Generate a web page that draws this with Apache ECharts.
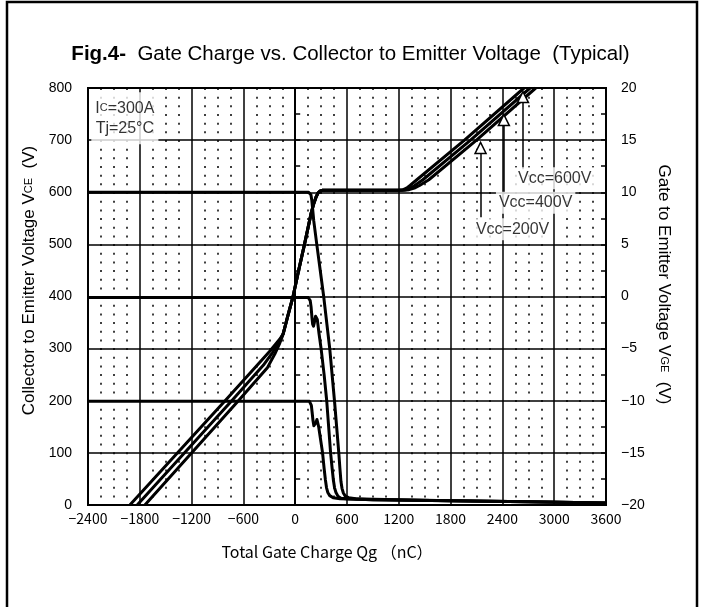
<!DOCTYPE html>
<html>
<head>
<meta charset="utf-8">
<script src="https://cdn.jsdelivr.net/npm/echarts@6/dist/echarts.min.js"></script>
<style>
html, body { margin: 0; padding: 0; background: #fff; }
#chart { width: 701px; height: 607px; }
</style>
</head>
<body>
<div id="chart"></div>
<script>
// Collector-emitter voltage during turn-on, [Qg nC, VCE V]
const vce600 = [[-2400,600],[155,600],[170,599],[182,595],[192,585],[202,568],[215,545],[250,500],[330,400],[400,300],[455,200],[505,100],[518,70],[530,45],[542,32],[558,23],[580,17],[620,14],[700,12],[900,11],[1800,8],[2700,6],[3600,4]];
const vce400 = [[-2400,398],[150,398],[163,397],[174,392],[184,380],[194,360],[202,347],[212,343],[222,350],[236,362],[246,364],[256,356],[275,330],[300,300],[335,250],[365,200],[410,100],[428,70],[442,48],[456,33],[472,24],[495,17],[530,13],[600,12],[900,10],[1800,8],[2700,6],[3600,4]];
const vce200 = [[-2400,199],[165,199],[177,197],[187,191],[196,178],[206,162],[216,152],[228,150],[240,158],[252,164],[262,162],[272,150],[290,130],[317,100],[335,70],[350,48],[363,33],[378,24],[400,18],[440,14],[520,12],[900,10],[1800,8],[2700,6],[3600,4]];

// Gate-emitter voltage, [Qg nC, VGE V]
const vgeLeft600 = [[-1915,-20],[-812,-10],[-420,-6.4],[-300,-5.3],[-230,-4.6],[-180,-4.1]];
const vgeLeft400 = [[-1830,-20],[-735,-10],[-370,-6.6],[-265,-5.4],[-205,-4.6],[-165,-4.0]];
const vgeLeft200 = [[-1741,-20],[-658,-10],[-320,-6.8],[-235,-5.5],[-185,-4.6],[-155,-3.95]];
const vgeMiddle = [[-140,-3.6],[-90,-2.0],[-25,0],[40,2.5],[105,4.9],[185,8.0],[215,8.9],[240,9.5],[262,9.9],[285,10.1],[320,10.2]];
const vgeRight200 = [[1200,10.2],[1250,10.25],[1290,10.4],[1330,10.65],[1409,11.2],[1961,15],[2651,20]];
const vgeRight400 = [[1230,10.2],[1285,10.25],[1335,10.4],[1385,10.65],[1479,11.2],[2031,15],[2721,20]];
const vgeRight600 = [[1260,10.2],[1320,10.25],[1380,10.4],[1440,10.65],[1548,11.2],[2100,15],[2786,20]];

// annotations (right axis units)
const vccNames = ['Vcc=200V', 'Vcc=400V', 'Vcc=600V'];
const arrowQ = [2147, 2417, 2638];
const arrowTop = [13.7, 16.4, 18.6];
const arrowBottom = [7.6, 9.8, 12.2];
const triangleVge = [14.25, 16.92, 19.13];
const labelQ = [2518, 2785, 3006];
const labelVge = [6.44, 8.99, 11.35];
const conditionText = 'I{s|C}=300A\nTj=25°C';
const conditionPos = [-1973, 742];

const minus = v => String(v).replace('-', '\u2212');

const chart = echarts.init(document.getElementById('chart'));

const curveStyle = { color: '#000', width: 3, join: 'round' };

const option = {
  animation: false,
  backgroundColor: '#fff',
  title: {
    text: '{b|Fig.4-}  Gate Charge vs. Collector to Emitter Voltage  (Typical)',
    left: 'center',
    top: 39,
    textStyle: {
      fontFamily: 'Liberation Sans',
      fontSize: 20.5,
      fontWeight: 'normal',
      color: '#000',
      rich: { b: { fontFamily: 'Liberation Sans', fontSize: 20.5, fontWeight: 'bold', color: '#000' } }
    }
  },
  graphic: [{
    type: 'rect',
    shape: { x: 7, y: 2, width: 690, height: 700 },
    style: { fill: 'none', stroke: '#000', lineWidth: 2.5 },
    silent: true
  }],
  grid: {
    left: 88, right: 95, top: 88, bottom: 102,
    show: true, borderColor: '#000', borderWidth: 2
  },
  xAxis: {
    type: 'value',
    min: -2400, max: 3600, interval: 600,
    axisLine: { show: true, onZero: false, lineStyle: { color: '#000', width: 2 } },
    axisTick: { show: false },
    axisLabel: { color: '#000', fontSize: 14, fontFamily: 'Noto Sans CJK JP', margin: 7, formatter: minus },
    splitLine: { show: true, lineStyle: { color: '#000', width: 1.5 } },
    minorTick: { show: false, splitNumber: 4 },
    minorSplitLine: { show: true, lineStyle: { color: '#000', width: 1.5, type: [2, 6.67] } },
    name: 'Total Gate Charge Qg （nC）',
    nameLocation: 'middle',
    nameGap: 39,
    nameTextStyle: { color: '#000', fontSize: 16, fontFamily: 'Noto Sans CJK JP', padding: [0, 40, 0, 0] }
  },
  yAxis: [{
    type: 'value',
    position: 'left',
    min: 0, max: 800, interval: 100,
    axisLine: { show: true, lineStyle: { color: '#000', width: 2 } },
    axisTick: { show: true, inside: true, length: 5, lineStyle: { color: '#000', width: 1.5 } },
    minorTick: { show: true, splitNumber: 2, length: 5, lineStyle: { color: '#000', width: 1.5 } },
    axisLabel: { color: '#000', fontSize: 14, fontFamily: 'Liberation Sans', margin: 16 },
    splitLine: { show: true, lineStyle: { color: '#000', width: 1.5 } },
    name: 'Collector to Emitter Voltage V{s|CE}  (V)',
    nameLocation: 'middle',
    nameGap: 47,
    nameTextStyle: {
      color: '#000', fontSize: 17, fontFamily: 'Liberation Sans', padding: [0, 0, 0, 32],
      rich: { s: { fontSize: 11, fontFamily: 'Liberation Sans', color: '#000' } }
    }
  }, {
    type: 'value',
    position: 'right',
    min: -20, max: 20, interval: 5,
    axisLine: { show: true, lineStyle: { color: '#000', width: 2 } },
    axisTick: { show: true, inside: true, length: 5, lineStyle: { color: '#000', width: 1.5 } },
    minorTick: { show: true, splitNumber: 2, length: 5, lineStyle: { color: '#000', width: 1.5 } },
    axisLabel: { color: '#000', fontSize: 14, fontFamily: 'Liberation Sans', margin: 15, formatter: minus },
    splitLine: { show: false },
    name: 'Gate to Emitter Voltage V{s|GE}  (V)',
    nameLocation: 'middle',
    nameRotate: -90,
    nameGap: 40,
    nameTextStyle: {
      color: '#000', fontSize: 17, fontFamily: 'Liberation Sans', padding: [0, 24, 0, 0],
      rich: { s: { fontSize: 11, fontFamily: 'Liberation Sans', color: '#000' } }
    }
  }],
  series: [
    { name: 'VCE 600', type: 'line', data: vce600, symbol: 'none', lineStyle: curveStyle, z: 3 },
    { name: 'VCE 400', type: 'line', data: vce400, symbol: 'none', lineStyle: curveStyle, z: 3 },
    { name: 'VCE 200', type: 'line', data: vce200, symbol: 'none', lineStyle: curveStyle, z: 3 },
    { name: 'VGE 600', type: 'line', yAxisIndex: 1, data: vgeLeft600.concat(vgeMiddle, vgeRight600), symbol: 'none', lineStyle: curveStyle, z: 3 },
    { name: 'VGE 400', type: 'line', yAxisIndex: 1, data: vgeLeft400.concat(vgeMiddle, vgeRight400), symbol: 'none', lineStyle: curveStyle, z: 3 },
    { name: 'VGE 200', type: 'line', yAxisIndex: 1, data: vgeLeft200.concat(vgeMiddle, vgeRight200), symbol: 'none', lineStyle: curveStyle, z: 3 },
    {
      name: 'arrows', type: 'lines', coordinateSystem: 'cartesian2d', yAxisIndex: 1,
      data: arrowQ.map((q, i) => ({ coords: [[q, arrowTop[i]], [q, arrowBottom[i]]] })),
      lineStyle: { color: '#000', width: 1.5, opacity: 1 }, z: 4
    },
    {
      name: 'triangles', type: 'scatter', yAxisIndex: 1,
      data: arrowQ.map((q, i) => [q, triangleVge[i]]),
      symbol: 'triangle', symbolSize: [11, 11],
      itemStyle: { color: '#fff', borderColor: '#000', borderWidth: 1.5, opacity: 1 }, z: 5
    },
    {
      name: 'vcc labels', type: 'scatter', yAxisIndex: 1,
      data: labelQ.map((q, i) => [q, labelVge[i], vccNames[i]]),
      symbolSize: 1, itemStyle: { color: 'rgba(0,0,0,0)' }, z: 6,
      label: {
        show: true, position: 'inside', formatter: p => p.value[2],
        color: '#000', fontSize: 16, fontFamily: 'Liberation Sans',
        backgroundColor: '#fff', padding: [4, 3, 2, 3]
      }
    },
    {
      name: 'conditions', type: 'scatter',
      data: [conditionPos],
      symbolSize: 1, itemStyle: { color: 'rgba(0,0,0,0)' }, z: 6,
      label: {
        show: true, position: 'inside', formatter: conditionText,
        color: '#000', fontSize: 16, fontFamily: 'Liberation Sans', lineHeight: 20,
        backgroundColor: '#fff', padding: [6, 4, 6, 4],
        rich: { s: { fontSize: 11, fontFamily: 'Liberation Sans', color: '#000', lineHeight: 20 } }
      }
    }
  ]
};

chart.setOption(option);
</script>
</body>
</html>
